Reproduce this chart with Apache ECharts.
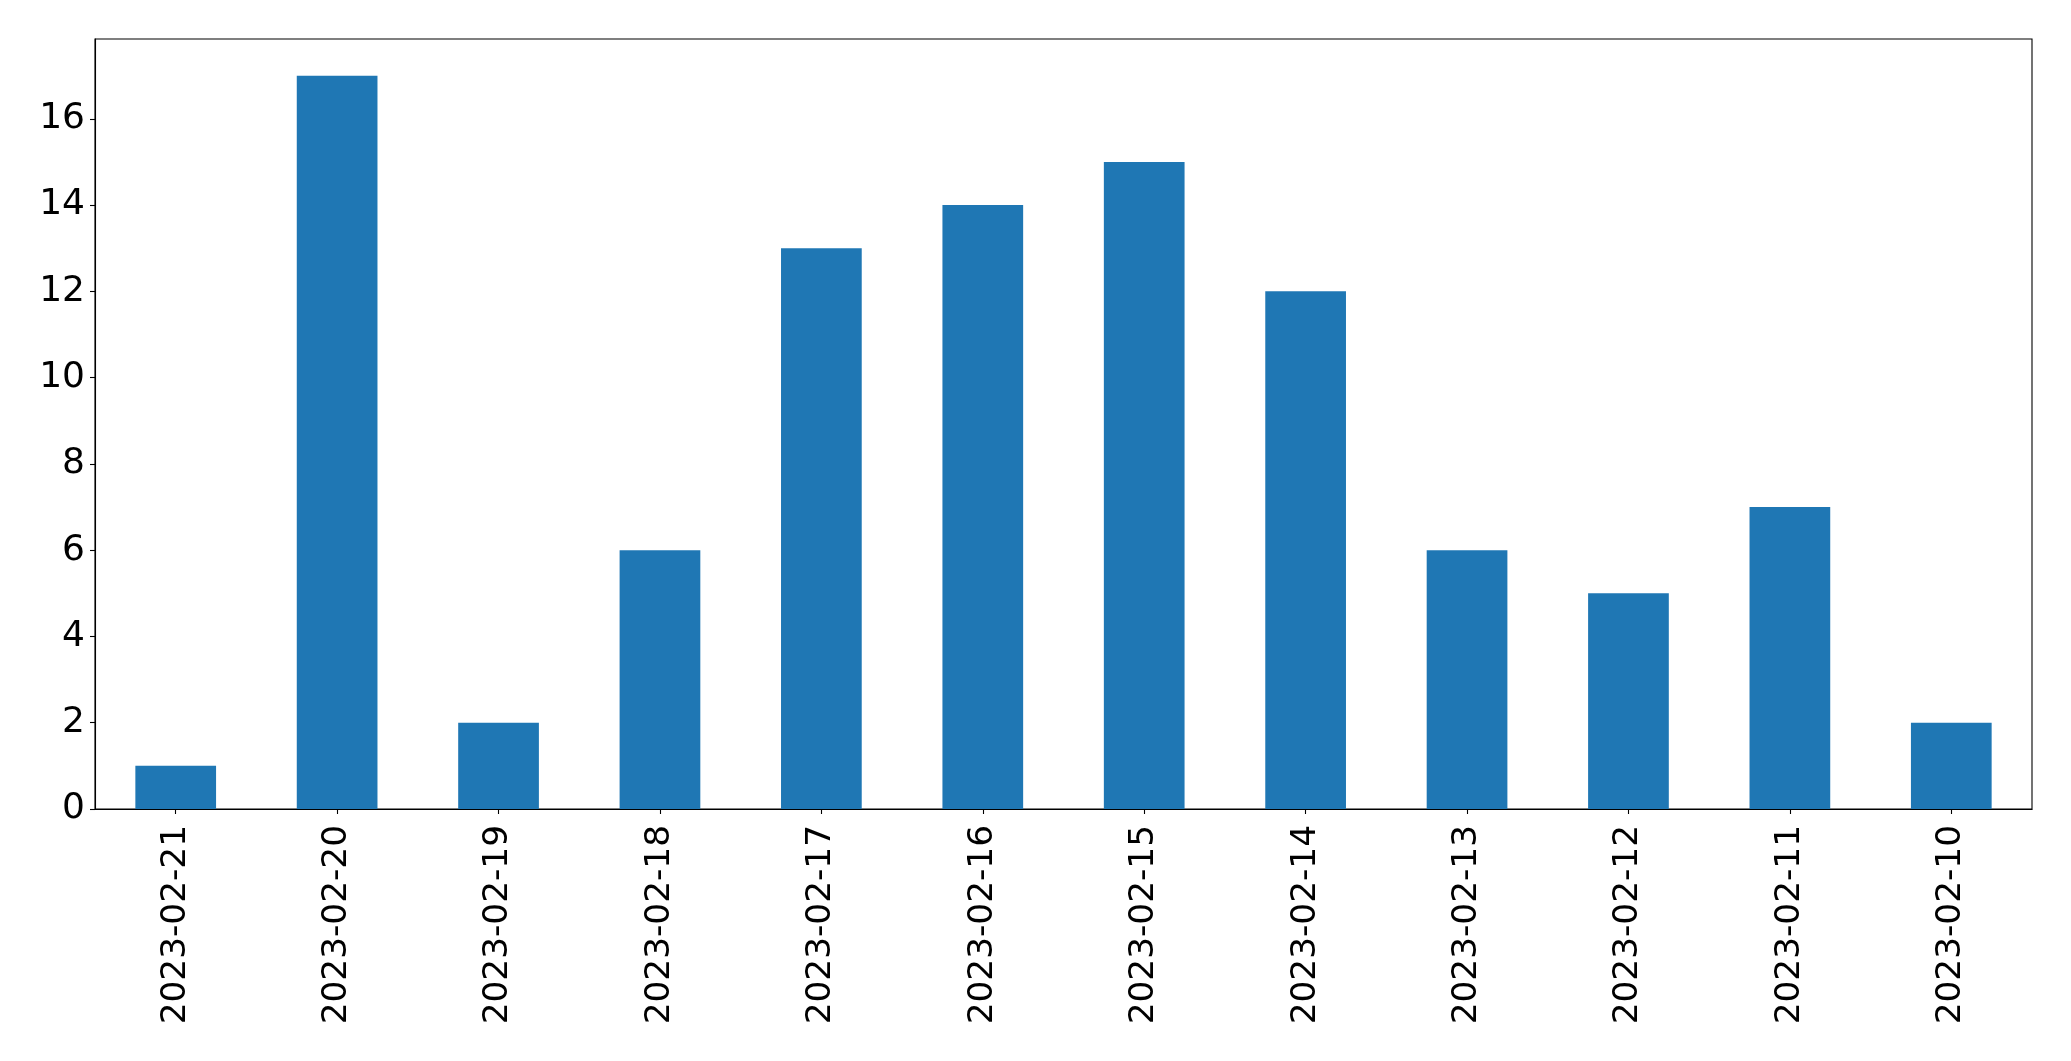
<!DOCTYPE html>
<html>
<head>
<meta charset="utf-8">
<script src="https://cdn.jsdelivr.net/npm/echarts@6/dist/echarts.min.js"></script>
<style>
html,body{margin:0;padding:0;background:#fff;}
#chart{width:2071px;height:1061px;}
</style>
</head>
<body>
<div id="chart"></div>
<script>
const categories = ["2023-02-21","2023-02-20","2023-02-19","2023-02-18","2023-02-17","2023-02-16","2023-02-15","2023-02-14","2023-02-13","2023-02-12","2023-02-11","2023-02-10"];
const values = [1, 17, 2, 6, 13, 14, 15, 12, 6, 5, 7, 2];
const yMin = 0;
const yMax = 17.85;
const yInterval = 2;

const chart = echarts.init(document.getElementById('chart'), null, {renderer: 'canvas'});
const font = 'DejaVu Sans';
chart.setOption({
  animation: false,
  backgroundColor: '#ffffff',
  grid: {left: 95, right: 39, top: 39, bottom: 252, show: true, borderColor: '#000', borderWidth: 1.1, backgroundColor: 'transparent'},
  xAxis: {
    type: 'category',
    data: categories,
    axisLine: {show: true, lineStyle: {color: '#000', width: 1.1}},
    axisTick: {show: true, alignWithLabel: true, length: 5, lineStyle: {color: '#000', width: 1.1}},
    axisLabel: {rotate: 90, margin: 16, fontFamily: font, fontSize: 34.3, color: '#000', interval: 0},
    splitLine: {show: false}
  },
  yAxis: {
    type: 'value',
    min: yMin,
    max: yMax,
    interval: yInterval,
    axisLine: {show: true, lineStyle: {color: '#000', width: 1.1}},
    axisTick: {show: true, length: 5, lineStyle: {color: '#000', width: 1.1}},
    axisLabel: {margin: 10, fontFamily: font, fontSize: 36, color: '#000', showMaxLabel: false,
      formatter: function(v){ return (Math.abs(v % 2) < 1e-9) ? String(v) : ''; }},
    splitLine: {show: false}
  },
  series: [{
    type: 'bar',
    data: values,
    barWidth: '50%',
    itemStyle: {color: '#1f77b4'}
  }]
});
</script>
</body>
</html>
